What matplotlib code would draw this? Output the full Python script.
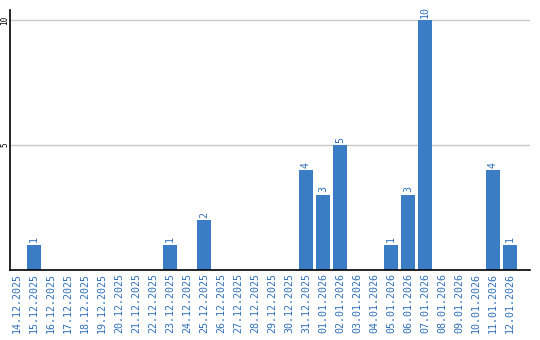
import matplotlib.pyplot as plt

dates = [
    "14.12.2025", "15.12.2025", "16.12.2025", "17.12.2025", "18.12.2025",
    "19.12.2025", "20.12.2025", "21.12.2025", "22.12.2025", "23.12.2025",
    "24.12.2025", "25.12.2025", "26.12.2025", "27.12.2025", "28.12.2025",
    "29.12.2025", "30.12.2025", "31.12.2025", "01.01.2026", "02.01.2026",
    "03.01.2026", "04.01.2026", "05.01.2026", "06.01.2026", "07.01.2026",
    "08.01.2026", "09.01.2026", "10.01.2026", "11.01.2026", "12.01.2026",
]
counts = [0, 1, 0, 0, 0, 0, 0, 0, 0, 1,
          0, 2, 0, 0, 0, 0, 0, 4, 3, 5,
          0, 0, 1, 3, 10, 0, 0, 0, 4, 1]
y_ticks = [5, 10]

BLUE = "#3b7dc4"
LABEL_BLUE = "#2f6fba"

fig = plt.figure(figsize=(5.4, 3.4), dpi=100)
ax = fig.add_axes([10 / 540, 70 / 340, 520 / 540, 260 / 340])

x = list(range(len(dates)))
ax.bar(x, counts, width=0.82, color=BLUE, zorder=2)

for xi, v in zip(x, counts):
    if v > 0:
        ax.text(xi, v + 0.1, str(v), rotation=90, ha="center", va="bottom",
                color=LABEL_BLUE, fontsize=7.2, family="DejaVu Sans Mono")

ax.set_xlim(-0.41, 30.18)
ax.set_ylim(0, 10.4)
ax.set_xticks(x)
ax.set_xticklabels(dates, rotation=90, color=LABEL_BLUE, fontsize=7.2,
                   family="DejaVu Sans Mono")
ax.set_yticks(y_ticks)
ax.set_yticklabels([str(t) for t in y_ticks], rotation=90, fontsize=5.5,
                   family="DejaVu Sans Mono", va="center")
ax.tick_params(axis="x", length=0, pad=2)
ax.tick_params(axis="y", length=0, pad=0.5)
ax.yaxis.grid(True, color="#c8c8c8", linewidth=1, zorder=0)
ax.set_axisbelow(True)
for side in ("top", "right"):
    ax.spines[side].set_visible(False)
for side in ("left", "bottom"):
    ax.spines[side].set_linewidth(1.2)

fig.savefig("out.png", dpi=100)
